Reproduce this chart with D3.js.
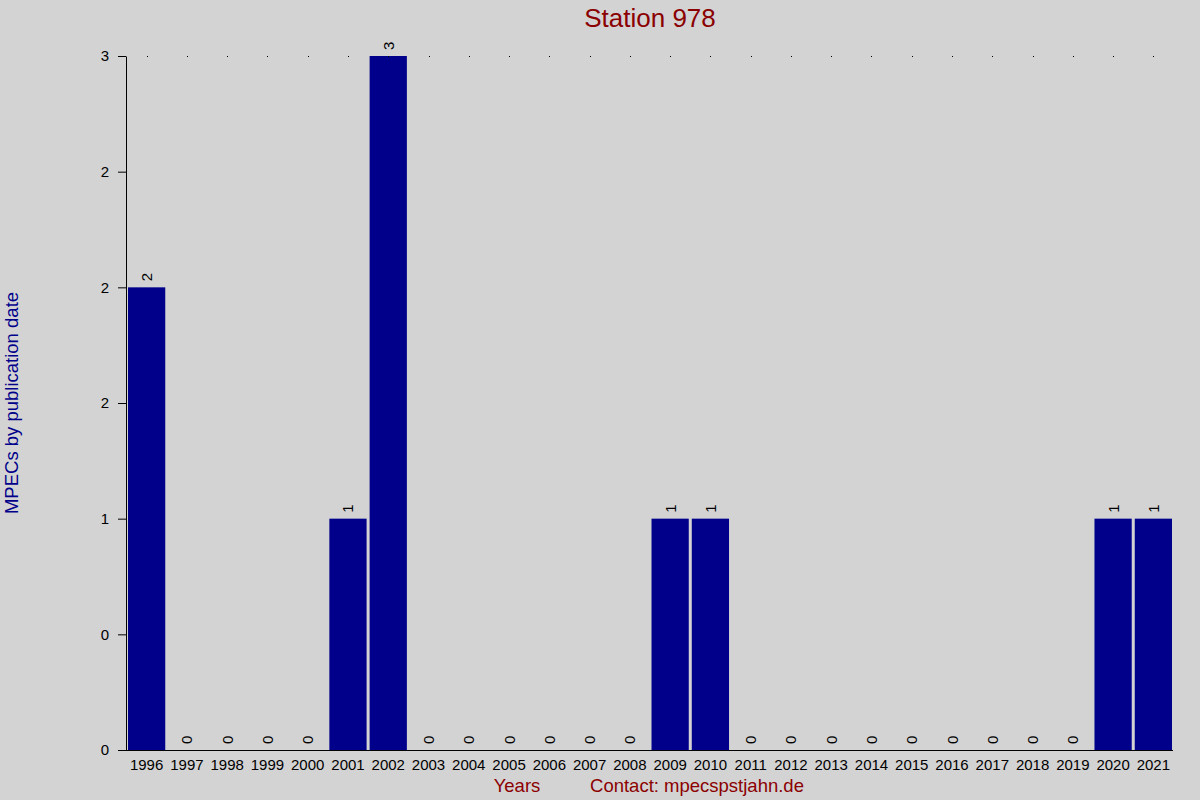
<!DOCTYPE html>
<html>
<head>
<meta charset="utf-8">
<script src="https://cdn.jsdelivr.net/npm/d3@7"></script>
<style>
  html, body { margin: 0; padding: 0; background: #d3d3d3; }
  svg { display: block; font-family: Arial, "Liberation Sans", sans-serif; }
</style>
</head>
<body>
<div id="chart"></div>
<script>
// chart data
const years = ['1996', '1997', '1998', '1999', '2000', '2001', '2002', '2003', '2004',
  '2005', '2006', '2007', '2008', '2009', '2010', '2011', '2012', '2013', '2014',
  '2015', '2016', '2017', '2018', '2019', '2020', '2021'];
const counts = [2, 0, 0, 0, 0, 1, 3, 0, 0, 0, 0, 0, 0, 1, 1, 0, 0, 0, 0, 0, 0, 0, 0, 0, 1, 1];
const yTicks = [0, 0.5, 1, 1.5, 2, 2.5, 3];
const yTickLabels = ['0', '0', '1', '2', '2', '2', '3'];

const width = 1200, height = 800;
const margin = { top: 56, right: 28, bottom: 50, left: 128 };
const fontFamily = 'Arial, "Liberation Sans", sans-serif';

const svg = d3.select('#chart').append('svg')
  .attr('width', width)
  .attr('height', height);

svg.append('rect')
  .attr('width', width).attr('height', height)
  .attr('fill', '#d3d3d3');

const xScale = d3.scaleBand()
  .domain(years)
  .range([margin.left, width - margin.right])
  .paddingInner(0.075)
  .paddingOuter(0.0);

const yScale = d3.scaleLinear()
  .domain([0, 3])
  .range([height - margin.bottom, margin.top]);

// bars
svg.selectAll('.bar')
  .data(years)
  .enter().append('rect')
  .attr('class', 'bar')
  .attr('x', d => xScale(d))
  .attr('y', (d, i) => yScale(counts[i]))
  .attr('width', xScale.bandwidth())
  .attr('height', (d, i) => yScale(0) - yScale(counts[i]))
  .attr('fill', '#00008b');

// dotted line at top value
svg.selectAll('.dot')
  .data(years)
  .enter().append('rect')
  .attr('class', 'dot')
  .attr('x', d => Math.round(xScale(d) + xScale.bandwidth() / 2))
  .attr('y', yScale(3))
  .attr('width', 1).attr('height', 1)
  .attr('fill', '#000');

// value labels
svg.selectAll('.value')
  .data(years)
  .enter().append('text')
  .attr('class', 'value')
  .attr('transform', (d, i) =>
    `translate(${xScale(d) + xScale.bandwidth() / 2},${yScale(counts[i]) - 6}) rotate(-90)`)
  .attr('dominant-baseline', 'central')
  .attr('font-size', 15)
  .attr('fill', '#000')
  .text((d, i) => counts[i]);

// y axis
const yAxis = d3.axisLeft(yScale)
  .tickValues(yTicks)
  .tickFormat((d, i) => yTickLabels[i])
  .tickSize(8)
  .tickSizeOuter(0)
  .tickPadding(9);

const yAxisGroup = svg.append('g')
  .attr('transform', `translate(${margin.left - 2},0)`)
  .call(yAxis);
yAxisGroup.selectAll('text').attr('font-size', 15).attr('font-family', fontFamily).attr('fill', '#000');
yAxisGroup.selectAll('line, path').attr('stroke', '#000');

// x axis
const xAxis = d3.axisBottom(xScale).tickSize(0).tickPadding(9);
const xAxisGroup = svg.append('g')
  .attr('transform', `translate(0,${yScale(0)})`)
  .call(xAxis);
xAxisGroup.select('.domain')
  .attr('d', `M${margin.left - 10},0.5H${width - margin.right + 1}`)
  .attr('stroke', '#000');
xAxisGroup.selectAll('text').attr('font-size', 15).attr('font-family', fontFamily).attr('fill', '#000');

// titles
svg.append('text')
  .attr('x', (margin.left + width - margin.right) / 2)
  .attr('y', 27)
  .attr('text-anchor', 'middle')
  .attr('font-size', 26)
  .attr('fill', '#8b0000')
  .text('Station 978');

svg.append('text')
  .attr('transform', `translate(18,${(yScale(0) + yScale(3)) / 2}) rotate(-90)`)
  .attr('text-anchor', 'middle')
  .attr('font-size', 18.5)
  .attr('fill', '#00008b')
  .text('MPECs by publication date');

svg.append('text')
  .attr('x', 517)
  .attr('y', 792)
  .attr('text-anchor', 'middle')
  .attr('font-size', 18.5)
  .attr('fill', '#8b0000')
  .text('Years');

svg.append('text')
  .attr('x', 697)
  .attr('y', 792)
  .attr('text-anchor', 'middle')
  .attr('font-size', 18.5)
  .attr('fill', '#8b0000')
  .text('Contact: mpecspstjahn.de');
</script>
</body>
</html>
